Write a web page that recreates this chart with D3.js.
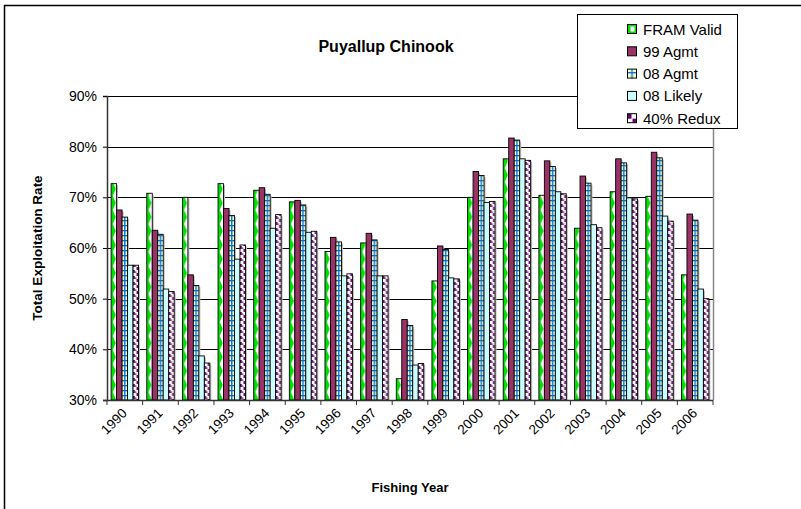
<!DOCTYPE html>
<html><head><meta charset="utf-8">
<script src="https://cdn.jsdelivr.net/npm/d3@7"></script>
<style>body{margin:0;background:#fff}svg{display:block;font-family:"Liberation Sans",Arial,sans-serif}</style>
</head><body><svg id="c" width="801" height="509"></svg>
<script>
const years = ["1990","1991","1992","1993","1994","1995","1996","1997","1998","1999","2000","2001","2002","2003","2004","2005","2006"];
const seriesNames = ["FRAM Valid","99 Agmt","08 Agmt","08 Likely","40% Redux"];
const framValid = [72.7,70.8,70.0,72.7,71.4,69.1,59.3,61.0,34.2,53.5,70.0,77.6,70.4,63.9,71.1,70.2,54.7];
const agmt99    = [67.5,63.5,54.7,67.8,71.9,69.4,62.1,62.9,45.9,60.4,75.1,81.7,77.2,74.2,77.6,78.9,66.7];
const agmt08    = [66.1,62.7,52.6,66.4,70.6,68.5,61.2,61.6,44.7,59.7,74.3,81.3,76.1,72.8,76.8,77.8,65.5];
const likely08  = [56.6,51.9,38.7,57.8,63.9,63.1,54.5,54.5,36.9,54.1,69.0,77.6,71.1,64.6,69.9,66.3,51.9];
const redux40   = [56.6,51.4,37.3,60.6,66.6,63.3,54.9,54.5,37.2,53.9,69.2,77.3,70.7,64.0,69.7,65.3,50.0];
const yTicks = [30,40,50,60,70,80,90];
const allSeries = [framValid, agmt99, agmt08, likely08, redux40];

const svg = d3.select("#c");
const L=107, R=713, T=96, B=400;
const x = d3.scaleBand().domain(years).range([L,R]).paddingInner(0).paddingOuter(0);
const y = d3.scaleLinear().domain([30,90]).range([B,T]);
const step = x.step();
const bw = step/6.5;
const x1 = d3.scaleBand().domain(d3.range(5)).range([bw*0.75, bw*0.75+bw*5]);

const defs = svg.append("defs");
// patterns repeat once per category, aligned to each series' bar
function barPattern(id, k, h){
  return defs.append("pattern").attr("id",id).attr("patternUnits","userSpaceOnUse")
    .attr("x",L+x1(k)).attr("y",0).attr("width",step).attr("height",h);
}
// FRAM Valid: white with green zigzag
const p1 = barPattern("pFram",0,14);
p1.append("rect").attr("width",step).attr("height",14).attr("fill","#fff");
p1.append("path").attr("d",`M0,0 L${bw*0.3},0 L${bw*0.85},7 L${bw*0.3},14 L0,14 Z`).attr("fill","#00e000");
// 08 Agmt: light yellow with blue grid
const p3 = barPattern("pAgmt08",2,5);
p3.append("rect").attr("width",step).attr("height",5).attr("fill","#ffffcc");
p3.append("rect").attr("x",0).attr("y",0).attr("width",bw).attr("height",1.3).attr("fill","#0070d0");
p3.append("rect").attr("x",bw/2-0.7).attr("y",0).attr("width",1.4).attr("height",5).attr("fill","#0070d0");
// 40% Redux: white with purple dashes along both sides
const p5 = barPattern("pRedux",4,6);
p5.append("rect").attr("width",step).attr("height",6).attr("fill","#fff");
p5.append("rect").attr("x",0).attr("y",0).attr("width",1.8).attr("height",3).attr("fill","#660066");
p5.append("rect").attr("x",bw-2).attr("y",3).attr("width",1.8).attr("height",3).attr("fill","#660066");
p5.append("rect").attr("x",bw/2-0.8).attr("y",1.5).attr("width",1.4).attr("height",1.2).attr("fill","#660066");
// legend patterns (small)
const lp1 = defs.append("pattern").attr("id","lFram").attr("patternUnits","objectBoundingBox").attr("width",1).attr("height",1);
lp1.append("rect").attr("width",9).attr("height",9).attr("fill","#00e000");
lp1.append("path").attr("d","M3,2 L7,2 L7,7 L3,7 Z").attr("fill","#fff");
const lp3 = defs.append("pattern").attr("id","lAgmt").attr("patternUnits","objectBoundingBox").attr("width",1).attr("height",1);
lp3.append("rect").attr("width",9).attr("height",9).attr("fill","#ffffcc");
lp3.append("rect").attr("x",0).attr("y",3).attr("width",9).attr("height",1.3).attr("fill","#0070d0");
lp3.append("rect").attr("x",3.8).attr("y",0).attr("width",1.4).attr("height",9).attr("fill","#0070d0");
const lp5 = defs.append("pattern").attr("id","lRedux").attr("patternUnits","objectBoundingBox").attr("width",1).attr("height",1);
lp5.append("rect").attr("width",9).attr("height",9).attr("fill","#fff");
lp5.append("rect").attr("x",0).attr("y",0).attr("width",4).attr("height",5).attr("fill","#660066");
lp5.append("rect").attr("x",5).attr("y",5).attr("width",4).attr("height",4).attr("fill","#660066");

const fills = ["url(#pFram)","#993366","url(#pAgmt08)","#ccffff","url(#pRedux)"];
const legendFills = ["url(#lFram)","#993366","url(#lAgmt)","#ccffff","url(#lRedux)"];

// outer border
svg.append("rect").attr("x",4.5).attr("y",5.5).attr("width",900).attr("height",600).attr("fill","none").attr("stroke","#000").attr("stroke-width",1.5);

// gridlines
svg.append("g").selectAll("line").data(yTicks.filter(d=>d>30)).join("line")
  .attr("x1",L).attr("x2",R).attr("y1",d=>Math.round(y(d))+0.5).attr("y2",d=>Math.round(y(d))+0.5)
  .attr("stroke","#000").attr("stroke-width",1);
svg.append("line").attr("x1",R+0.5).attr("x2",R+0.5).attr("y1",T).attr("y2",B).attr("stroke","#888").attr("stroke-width",1.5);

// bars
const g = svg.append("g");
years.forEach((yr,i)=>{
  allSeries.forEach((s,k)=>{
    const bx = x(yr)+x1(k);
    g.append("rect").attr("x",bx+1.5).attr("y",y(s[i])+1.5).attr("width",bw).attr("height",B-y(s[i])-1.5).attr("fill","#bbb");
    g.append("rect").attr("x",bx).attr("y",y(s[i])).attr("width",bw).attr("height",B-y(s[i]))
      .attr("fill",fills[k]).attr("stroke","#000").attr("stroke-width",0.9);
  });
});

// axes
const yAxis = d3.axisLeft(y).tickValues(yTicks).tickFormat(d=>d+"%").tickSize(4).tickPadding(6);
const ya = svg.append("g").attr("transform",`translate(${L},0)`).call(yAxis);
ya.select(".domain").attr("stroke","#333").attr("stroke-width",1.5);
ya.selectAll("text").attr("font-size",14).attr("fill","#000").attr("font-family","Liberation Sans, Arial, sans-serif");

const xa = svg.append("g").attr("transform",`translate(0,${B})`);
xa.append("line").attr("x1",L-4).attr("x2",R).attr("y1",0.5).attr("y2",0.5).attr("stroke","#333").attr("stroke-width",1.5);
xa.selectAll("line.tk").data(years.concat(["end"])).join("line").attr("class","tk")
  .attr("x1",(d,i)=>L+i*step).attr("x2",(d,i)=>L+i*step).attr("y1",0).attr("y2",5).attr("stroke","#333");
xa.selectAll("text").data(years).join("text")
  .attr("transform",d=>`translate(${x(d)+x.bandwidth()/2+3},${14}) rotate(-45)`)
  .attr("text-anchor","end").attr("font-size",13.5).attr("fill","#000").text(d=>d);

// titles
svg.append("text").attr("x",386).attr("y",52).attr("text-anchor","middle").attr("font-size",16).attr("font-weight","bold").text("Puyallup Chinook");
svg.append("text").attr("transform","translate(42,248) rotate(-90)").attr("text-anchor","middle").attr("font-size",13.5).attr("font-weight","bold").text("Total Exploitation Rate");
svg.append("text").attr("x",410).attr("y",492).attr("text-anchor","middle").attr("font-size",13).attr("font-weight","bold").text("Fishing Year");

// legend
const lg = svg.append("g");
lg.append("rect").attr("x",577.5).attr("y",14.5).attr("width",160).attr("height",114).attr("fill","#fff").attr("stroke","#000");
seriesNames.forEach((n,k)=>{
  const cy = 29 + k*22.3;
  lg.append("rect").attr("x",627.5).attr("y",cy-4.5).attr("width",9).attr("height",9).attr("fill",legendFills[k]).attr("stroke","#000");
  lg.append("text").attr("x",643).attr("y",cy+5.5).attr("font-size",15).attr("fill","#000").text(n);
});
</script></body></html>
